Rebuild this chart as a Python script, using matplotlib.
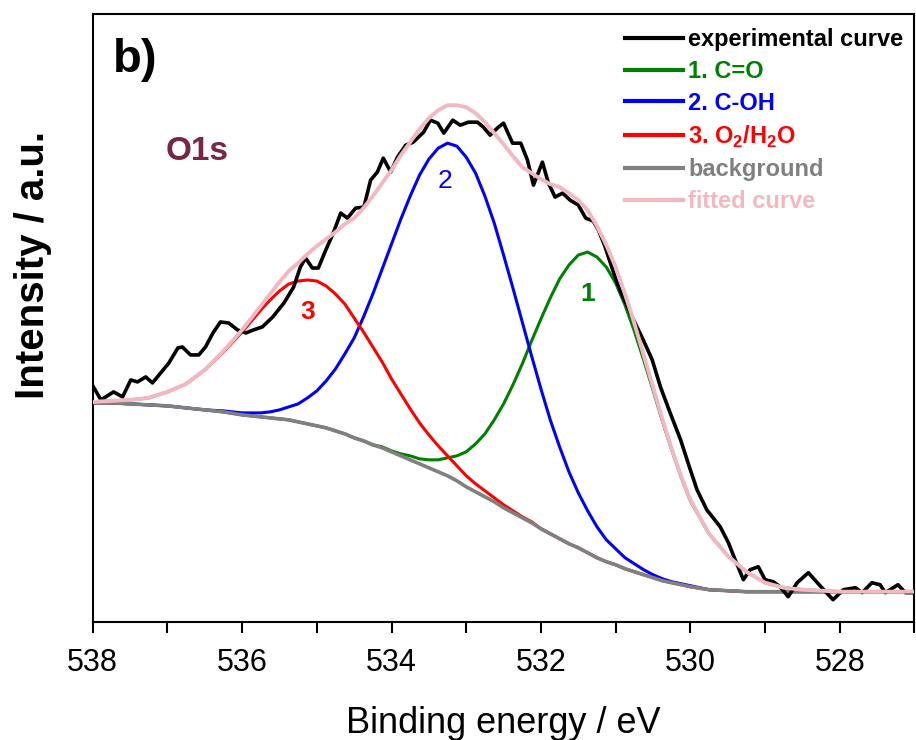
import matplotlib
matplotlib.use('Agg')
import matplotlib.pyplot as plt
from matplotlib.ticker import MultipleLocator

plt.rcParams['font.family'] = ['Liberation Sans', 'DejaVu Sans']
plt.rcParams['mathtext.fontset'] = 'custom'
plt.rcParams['mathtext.rm'] = 'Liberation Sans:bold'
plt.rcParams['mathtext.bf'] = 'Liberation Sans:bold'

# binding energy grid of the fitted curves (eV), finer around the peaks
energy = [538.0, 537.75, 537.5, 537.25, 537.0, 536.75, 536.5, 536.25,
          536.0, 535.875, 535.75, 535.625, 535.5, 535.375, 535.25, 535.125, 535.0,
          534.875, 534.75, 534.625, 534.5, 534.375, 534.25, 534.125, 534.0,
          533.875, 533.75, 533.625, 533.5, 533.375, 533.25, 533.125, 533.0,
          532.875, 532.75, 532.625, 532.5, 532.375, 532.25, 532.125, 532.0,
          531.875, 531.75, 531.625, 531.5, 531.375, 531.25, 531.125, 531.0,
          530.875, 530.75, 530.625, 530.5, 530.375, 530.25, 530.125, 530.0,
          529.75, 529.5, 529.25, 529.0, 528.75, 528.5, 528.25, 528.0,
          527.75, 527.5, 527.25, 527.0]

background = [219, 219, 218, 217, 216, 214, 212, 210,
              207, 206, 205, 204, 203, 202, 200, 198, 196,
              194, 191, 188, 184, 181, 177, 174, 170,
              166, 162, 158, 154, 150, 146, 141, 135,
              130, 125, 120, 114, 109, 104, 99, 93,
              88, 83, 78, 74, 69, 64, 60, 57,
              53, 50, 47, 44, 41, 39, 37, 35,
              32, 31, 30, 30, 30, 30, 30, 30, 30, 30, 30, 30]

peak_co = [219, 219, 218, 217, 216, 214, 212, 210,
           207, 206, 205, 204, 203, 202, 200, 198, 196,
           194, 191, 188, 184, 181, 177, 175, 171,
           168, 166, 163, 162, 162, 164, 166, 170,
           178, 188, 202, 218, 237, 258, 281, 303,
           324, 343, 357, 367, 370, 365, 355, 339,
           317, 291, 262, 232, 201, 172, 145, 121,
           88, 66, 50, 39, 34, 32, 31, 30, 30, 30, 30, 30]

peak_coh = [219, 219, 218, 217, 216, 214, 212, 211,
            209, 209, 209, 210, 212, 215, 218, 224, 231,
            241, 253, 268, 284, 305, 328, 353, 378,
            403, 426, 447, 463, 474, 479, 476, 465,
            449, 426, 399, 367, 334, 300, 266, 233,
            202, 175, 150, 129, 111, 95, 82, 73,
            64, 58, 52, 47, 43, 40, 38, 36,
            32, 31, 30, 30, 30, 30, 30, 30, 30, 30, 30, 30]

peak_h2o = [220, 221, 222, 224, 230, 238, 252, 270,
            290, 301, 312, 322, 331, 338, 341, 342, 341,
            336, 328, 318, 304, 290, 275, 260, 243,
            228, 213, 199, 187, 176, 166, 156, 146,
            138, 131, 124, 117, 111, 105, 100, 93,
            88, 83, 78, 74, 69, 64, 60, 57,
            53, 50, 47, 44, 41, 39, 37, 35,
            32, 31, 30, 30, 30, 30, 30, 30, 30, 30, 30, 30]

fitted = [220, 221, 222, 224, 230, 238, 252, 271,
          292, 304, 316, 328, 340, 351, 359, 368, 376,
          383, 390, 398, 404, 414, 426, 439, 452,
          467, 480, 493, 504, 512, 517, 517, 515,
          509, 500, 489, 478, 466, 455, 449, 443,
          438, 435, 429, 422, 412, 396, 377, 355,
          328, 299, 267, 235, 203, 173, 146, 122,
          88, 66, 50, 39, 34, 32, 31, 30, 30, 30, 30, 30]

# measured spectrum
exp_energy = [537.99, 537.89, 537.72, 537.60, 537.49, 537.40, 537.29, 537.20, 537.09,
              536.98, 536.86, 536.80, 536.69, 536.58, 536.49, 536.39, 536.29, 536.18,
              536.06, 535.95, 535.85, 535.73, 535.59, 535.44, 535.31, 535.22, 535.15,
              535.06, 534.98, 534.88, 534.78, 534.68, 534.59, 534.48, 534.37, 534.28,
              534.19, 534.11, 534.01, 533.92, 533.81, 533.71, 533.57, 533.48, 533.38,
              533.30, 533.18, 533.08, 532.97, 532.85, 532.77, 532.68, 532.57, 532.50,
              532.38, 532.27, 532.18, 532.10, 531.98, 531.90, 531.81, 531.71, 531.61,
              531.50, 531.40, 531.30, 531.23, 531.14, 531.07, 530.98, 530.90, 530.76,
              530.63, 530.51, 530.40, 530.27, 530.13, 530.00, 529.91, 529.78, 529.60,
              529.49, 529.40, 529.29, 529.20, 529.09, 529.00, 528.89, 528.80, 528.69,
              528.57, 528.42, 528.30, 528.19, 528.09, 527.95, 527.79, 527.70, 527.57,
              527.46, 527.39, 527.22, 527.12, 527.00]
exp_counts = [235, 222, 230, 225, 242, 240, 245, 239, 249,
              259, 274, 275, 267, 267, 275, 289, 300, 299,
              292, 289, 292, 295, 305, 319, 335, 355, 364,
              354, 354, 372, 389, 409, 404, 414, 415, 442,
              450, 464, 450, 465, 477, 480, 490, 502, 499,
              489, 502, 497, 500, 500, 495, 487, 495, 499,
              479, 479, 462, 437, 460, 439, 425, 429, 422,
              417, 404, 401, 392, 375, 359, 339, 325, 302,
              282, 262, 235, 209, 182, 152, 132, 112, 95,
              79, 62, 42, 52, 55, 42, 40, 35, 25,
              39, 49, 39, 30, 22, 32, 34, 29, 39,
              37, 29, 37, 29, 29]

fig = plt.figure(figsize=(9.16, 7.40), dpi=100)
ax = fig.add_axes([0.1012, 0.1599, 0.8971, 0.8208])

ax.plot(energy, peak_co, color='#008000', lw=2.2, label='1. C=O', zorder=2)
ax.plot(energy, peak_coh, color='#0000ff', lw=2.2, label='2. C-OH', zorder=2)
ax.plot(energy, peak_h2o, color='#ff0000', lw=2.2, label=r'3. O$_2$/H$_2$O', zorder=2)
ax.plot(energy, background, color='#808080', lw=2.6, label='background', zorder=3)
ax.plot(exp_energy, exp_counts, color='black', lw=2.6, label='experimental curve', zorder=4)
ax.plot(energy, fitted, color='#f2b8c2', lw=2.8, label='fitted curve', zorder=5)

ax.set_xlim(538, 527)
ax.set_ylim(0, 608)
ax.xaxis.set_major_locator(MultipleLocator(2))
ax.xaxis.set_minor_locator(MultipleLocator(1))
ax.set_yticks([])
ax.tick_params(axis='x', which='both', direction='out', length=8, width=1.5)
ax.tick_params(axis='x', which='major', labelsize=22, pad=11)
for s in ax.spines.values():
    s.set_linewidth(1.5)

ax.set_xlabel('Binding energy / eV', fontsize=26, labelpad=20)
fig.text(33 / 916, 1 - 265 / 740, 'Intensity / a.u.', rotation=90, fontsize=29,
         fontweight='bold', ha='center', va='center')

ax.text(537.73, 550, 'b)', fontsize=34, fontweight='bold', ha='left', va='baseline')
ax.text(537.02, 462, 'O1s', fontsize=24, fontweight='bold', color='#7a2541',
        ha='left', va='baseline')
ax.text(535.12, 310, '3', fontsize=19, fontweight='bold', color='#ff0000', ha='center', va='center')
ax.text(533.28, 441, '2', fontsize=19, color='#0000ff', ha='center', va='center')
ax.text(531.38, 328, '1', fontsize=19, fontweight='bold', color='#008000', ha='center', va='center')

handles, labels = ax.get_legend_handles_labels()
order = [4, 0, 1, 2, 3, 5]
leg = ax.legend([handles[i] for i in order], [labels[i] for i in order],
                loc='upper left', bbox_to_anchor=(0.648, 0.977), frameon=False,
                prop={'size': 17, 'weight': 'bold'}, labelcolor='linecolor',
                handlelength=2.45, handletextpad=0.22, labelspacing=0.37,
                borderpad=0, borderaxespad=0)
for line in leg.get_lines():
    line.set_linewidth(3)

fig.savefig('out.png', dpi=100)
